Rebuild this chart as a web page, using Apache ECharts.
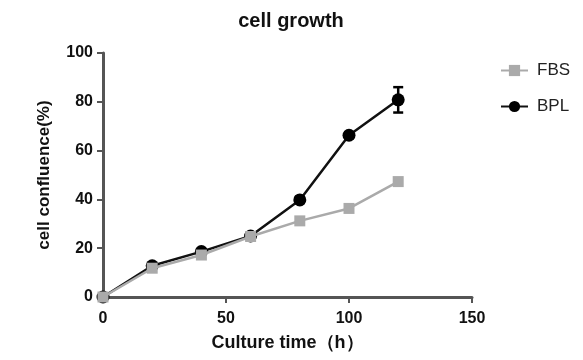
<!DOCTYPE html>
<html><head><meta charset="utf-8">
<script src="https://cdn.jsdelivr.net/npm/echarts@6/dist/echarts.min.js"></script>
<style>html,body{margin:0;padding:0;background:#fff}#c{width:583px;height:360px}</style>
</head><body><div id="c"></div>
<script>
var hours = [0, 20, 40, 60, 80, 100, 120];
var fbs = [0, 11.8, 17.2, 24.8, 31.2, 36.3, 47.3];
var bpl = [0, 12.8, 18.6, 25.0, 39.8, 66.3, 80.8];
var bplErr = [0, 0.8, 1.0, 0.8, 1.2, 1.2, 5.2];
var xTicks = [0, 50, 100, 150];
var yTicks = [0, 20, 40, 60, 80, 100];

var chart = echarts.init(document.getElementById('c'));
var ff = 'Liberation Sans, Arial, sans-serif';
var errData = hours.map(function(h, i){ return [h, bpl[i] - bplErr[i], bpl[i] + bplErr[i]]; });
chart.setOption({
  animation: false,
  title: { text: 'cell growth', left: 286, top: 6, textAlign: 'center',
    textStyle: { fontFamily: ff, fontSize: 20, fontWeight: 'bold', color: '#111' } },
  legend: {
    left: 495, top: 57, orient: 'vertical', itemGap: 19, itemWidth: 27, itemHeight: 14,
    textStyle: { fontFamily: ff, fontSize: 17, color: '#222', padding: [0, 0, 0, 4] },
    data: ['FBS', 'BPL']
  },
  grid: { left: 103, right: 111, top: 53, bottom: 63 },
  xAxis: {
    type: 'value', min: 0, max: 150, interval: 50,
    name: 'Culture time（h）', nameLocation: 'middle', nameGap: 37,
    nameTextStyle: { fontFamily: ff, fontSize: 18, fontWeight: 'bold', color: '#111' },
    axisLine: { lineStyle: { color: '#555', width: 3 } },
    axisTick: { show: true, length: 6, lineStyle: { color: '#555', width: 2 } },
    axisLabel: { fontFamily: ff, fontSize: 16, fontWeight: 'bold', color: '#111', margin: 14 },
    splitLine: { show: false }
  },
  yAxis: {
    type: 'value', min: 0, max: 100, interval: 20,
    name: 'cell confluence(%)', nameLocation: 'middle', nameGap: 50,
    nameTextStyle: { fontFamily: ff, fontSize: 17, fontWeight: 'bold', color: '#111' },
    axisLine: { show: true, lineStyle: { color: '#555', width: 3 } },
    axisTick: { show: true, length: 6, lineStyle: { color: '#555', width: 2 } },
    axisLabel: { fontFamily: ff, fontSize: 16, fontWeight: 'bold', color: '#111', margin: 10 },
    splitLine: { show: false }
  },
  series: [
    { name: 'BPL', type: 'line', data: hours.map(function(h,i){return [h,bpl[i]];}),
      symbol: 'circle', symbolSize: 13, z: 3,
      itemStyle: { color: '#000' }, lineStyle: { color: '#111', width: 2.5 } },
    { name: 'FBS', type: 'line', data: hours.map(function(h,i){return [h,fbs[i]];}),
      symbol: 'rect', symbolSize: 11, z: 4,
      itemStyle: { color: '#aaa' }, lineStyle: { color: '#aaa', width: 2.5 } },
    { name: 'err', type: 'custom', z: 2, data: errData,
      renderItem: function(params, api){
        var x = api.value(0);
        var lo = api.coord([x, api.value(1)]);
        var hi = api.coord([x, api.value(2)]);
        var w = 5;
        return { type: 'group', children: [
          { type: 'line', shape: { x1: lo[0], y1: lo[1], x2: hi[0], y2: hi[1] }, style: { stroke: '#000', lineWidth: 2.5 } },
          { type: 'line', shape: { x1: lo[0]-w, y1: lo[1], x2: lo[0]+w, y2: lo[1] }, style: { stroke: '#000', lineWidth: 2.5 } },
          { type: 'line', shape: { x1: hi[0]-w, y1: hi[1], x2: hi[0]+w, y2: hi[1] }, style: { stroke: '#000', lineWidth: 2.5 } }
        ]};
      } }
  ]
});
</script></body></html>
